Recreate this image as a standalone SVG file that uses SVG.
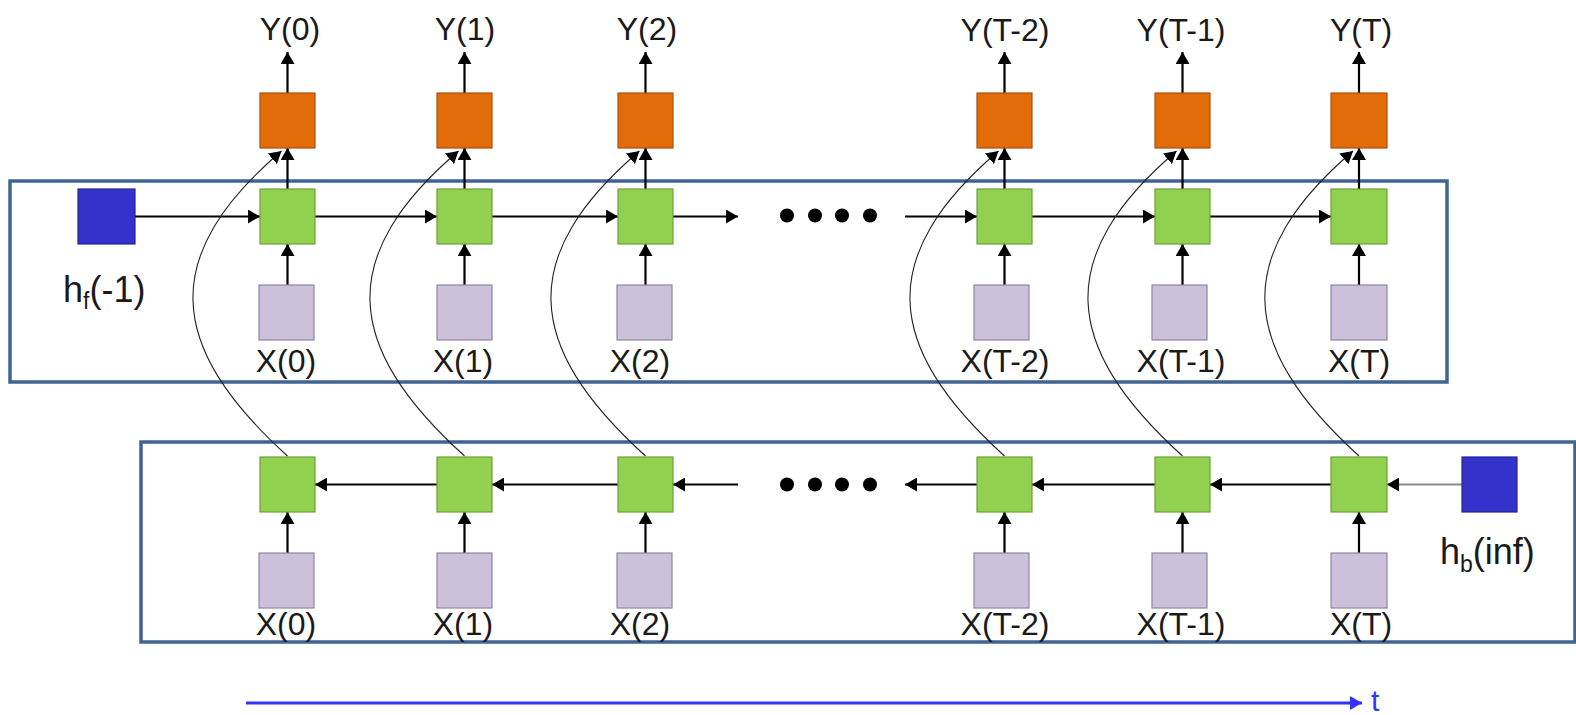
<svg xmlns="http://www.w3.org/2000/svg" width="1576" height="715" viewBox="0 0 1576 715">
<style>
.frame{fill:none;stroke:#3F6491;stroke-width:3.5}
.out{fill:#E36C0A;stroke:#A8510B;stroke-width:1.2}
.hid{fill:#92D050;stroke:#6FA03A;stroke-width:1.2}
.inp{fill:#CCC1DA;stroke:#8E86A0;stroke-width:1.2}
.init{fill:#3333CC;stroke:#26268F;stroke-width:1.2}
.lbl{font-family:"Liberation Sans",Arial,sans-serif;font-size:32px;fill:#1a1a1a;text-anchor:middle}
.hl{font-family:"Liberation Sans",Arial,sans-serif;font-size:36px;fill:#1a1a1a}
.ar{fill:none;stroke:#000;stroke-width:2.2;marker-end:url(#ah)}
.gr{fill:none;stroke:#888;stroke-width:2;marker-end:url(#ah)}
.cv{fill:none;stroke:#222;stroke-width:1.1;marker-end:url(#ah)}
.dot{fill:#000}
</style>
<defs>
<marker id="ah" viewBox="0 0 12 14" refX="12" refY="7" markerWidth="12" markerHeight="14" markerUnits="userSpaceOnUse" orient="auto"><path d="M0,0 L12,7 L0,14 z" fill="#000"/></marker>
<marker id="ahb" viewBox="0 0 12 14" refX="12" refY="7" markerWidth="12" markerHeight="14" markerUnits="userSpaceOnUse" orient="auto"><path d="M0,0 L12,7 L0,14 z" fill="#3333FF"/></marker>
</defs>

<g id="forward-frame"><rect class="frame" x="10" y="181" width="1437" height="201"/></g>
<g id="backward-frame"><rect class="frame" x="141" y="442" width="1434" height="200"/></g>

<g id="connectors">
  <path class="ar" d="M287.5,93 V52"/>
  <path class="ar" d="M464.5,93 V52"/>
  <path class="ar" d="M645.5,93 V52"/>
  <path class="ar" d="M1004.5,93 V52"/>
  <path class="ar" d="M1182.5,93 V52"/>
  <path class="ar" d="M1359,93 V52"/>
  <path class="ar" d="M287.5,189 V148"/>
  <path class="ar" d="M464.5,189 V148"/>
  <path class="ar" d="M645.5,189 V148"/>
  <path class="ar" d="M1004.5,189 V148"/>
  <path class="ar" d="M1182.5,189 V148"/>
  <path class="ar" d="M1359,189 V148"/>
  <path class="ar" d="M287.5,285 V244"/>
  <path class="ar" d="M464.5,285 V244"/>
  <path class="ar" d="M645.5,285 V244"/>
  <path class="ar" d="M1004.5,285 V244"/>
  <path class="ar" d="M1182.5,285 V244"/>
  <path class="ar" d="M1359,285 V244"/>
  <path class="ar" d="M287.5,553 V512"/>
  <path class="ar" d="M464.5,553 V512"/>
  <path class="ar" d="M645.5,553 V512"/>
  <path class="ar" d="M1004.5,553 V512"/>
  <path class="ar" d="M1182.5,553 V512"/>
  <path class="ar" d="M1359,553 V512"/>
  <path class="ar" d="M135,216.5 H260"/>
  <path class="ar" d="M315,216.5 H437"/>
  <path class="ar" d="M492,216.5 H618"/>
  <path class="ar" d="M673,216.5 H738"/>
  <path class="ar" d="M905,216.5 H977"/>
  <path class="ar" d="M1032,216.5 H1155"/>
  <path class="ar" d="M1210,216.5 H1331"/>
  <path class="gr" d="M1462,484.5 H1387"/>
  <path class="ar" d="M1331,484.5 H1210"/>
  <path class="ar" d="M1155,484.5 H1032"/>
  <path class="ar" d="M977,484.5 H905"/>
  <path class="ar" d="M738,484.5 H673"/>
  <path class="ar" d="M618,484.5 H492"/>
  <path class="ar" d="M437,484.5 H315"/>
  <path class="cv" d="M287.5,456 C165,345 160,255 281.5,151"/>
  <path class="cv" d="M464.5,456 C342,345 337,255 458.5,151"/>
  <path class="cv" d="M645.5,456 C523,345 518,255 639.5,151"/>
  <path class="cv" d="M1004.5,456 C882,345 877,255 998.5,151"/>
  <path class="cv" d="M1182.5,456 C1060,345 1055,255 1176.5,151"/>
  <path class="cv" d="M1359,456 C1237,345 1232,255 1353,151"/>
  <circle class="dot" cx="787" cy="215.5" r="7"/>
  <circle class="dot" cx="815" cy="215.5" r="7"/>
  <circle class="dot" cx="842" cy="215.5" r="7"/>
  <circle class="dot" cx="870" cy="215.5" r="7"/>
  <circle class="dot" cx="787" cy="484.5" r="7"/>
  <circle class="dot" cx="815" cy="484.5" r="7"/>
  <circle class="dot" cx="842" cy="484.5" r="7"/>
  <circle class="dot" cx="870" cy="484.5" r="7"/>
  <path d="M246,703 H1362" stroke="#3333FF" stroke-width="3" fill="none" marker-end="url(#ahb)"/>
</g>

<g id="hf-init"><rect class="init" x="78" y="189" width="57" height="55"/><text class="hl" x="63" y="302">h<tspan font-size="23" dy="7">f</tspan><tspan dy="-7">(-1)</tspan></text></g>
<g id="hb-init"><rect class="init" x="1462" y="457" width="55" height="55"/><text class="hl" x="1440" y="564">h<tspan font-size="23" dy="8">b</tspan><tspan dy="-8">(inf)</tspan></text></g>

<g id="col0">
  <rect class="out" x="260" y="93" width="55" height="55"/>
  <rect class="hid" x="260" y="189" width="55" height="55"/>
  <rect class="inp" x="259" y="285" width="55" height="55"/>
  <rect class="hid" x="260" y="457" width="55" height="55"/>
  <rect class="inp" x="259" y="553" width="55" height="55"/>
  <text class="lbl" x="290" y="40">Y(0)</text>
  <text class="lbl" x="286" y="372">X(0)</text>
  <text class="lbl" x="286" y="635">X(0)</text>
</g>
<g id="col1">
  <rect class="out" x="437" y="93" width="55" height="55"/>
  <rect class="hid" x="437" y="189" width="55" height="55"/>
  <rect class="inp" x="437" y="285" width="55" height="55"/>
  <rect class="hid" x="437" y="457" width="55" height="55"/>
  <rect class="inp" x="437" y="553" width="55" height="55"/>
  <text class="lbl" x="465" y="40">Y(1)</text>
  <text class="lbl" x="463" y="372">X(1)</text>
  <text class="lbl" x="463" y="635">X(1)</text>
</g>
<g id="col2">
  <rect class="out" x="618" y="93" width="55" height="55"/>
  <rect class="hid" x="618" y="189" width="55" height="55"/>
  <rect class="inp" x="617" y="285" width="55" height="55"/>
  <rect class="hid" x="618" y="457" width="55" height="55"/>
  <rect class="inp" x="617" y="553" width="55" height="55"/>
  <text class="lbl" x="647" y="40">Y(2)</text>
  <text class="lbl" x="640" y="372">X(2)</text>
  <text class="lbl" x="640" y="635">X(2)</text>
</g>
<g id="colT-2">
  <rect class="out" x="977" y="93" width="55" height="55"/>
  <rect class="hid" x="977" y="189" width="55" height="55"/>
  <rect class="inp" x="974" y="285" width="55" height="55"/>
  <rect class="hid" x="977" y="457" width="55" height="55"/>
  <rect class="inp" x="974" y="553" width="55" height="55"/>
  <text class="lbl" x="1005" y="41">Y(T-2)</text>
  <text class="lbl" x="1005" y="372">X(T-2)</text>
  <text class="lbl" x="1005" y="635">X(T-2)</text>
</g>
<g id="colT-1">
  <rect class="out" x="1155" y="93" width="55" height="55"/>
  <rect class="hid" x="1155" y="189" width="55" height="55"/>
  <rect class="inp" x="1152" y="285" width="55" height="55"/>
  <rect class="hid" x="1155" y="457" width="55" height="55"/>
  <rect class="inp" x="1152" y="553" width="55" height="55"/>
  <text class="lbl" x="1181" y="41">Y(T-1)</text>
  <text class="lbl" x="1181" y="372">X(T-1)</text>
  <text class="lbl" x="1181" y="635">X(T-1)</text>
</g>
<g id="colT">
  <rect class="out" x="1331" y="93" width="56" height="55"/>
  <rect class="hid" x="1331" y="189" width="56" height="55"/>
  <rect class="inp" x="1331" y="285" width="56" height="55"/>
  <rect class="hid" x="1331" y="457" width="56" height="55"/>
  <rect class="inp" x="1331" y="553" width="56" height="55"/>
  <text class="lbl" x="1361" y="41">Y(T)</text>
  <text class="lbl" x="1359" y="372">X(T)</text>
  <text class="lbl" x="1361" y="635">X(T)</text>
</g>
<g id="t-label"><text x="1371" y="711" font-family="Liberation Sans,Arial,sans-serif" font-size="30" fill="#3333FF">t</text></g>
</svg>
